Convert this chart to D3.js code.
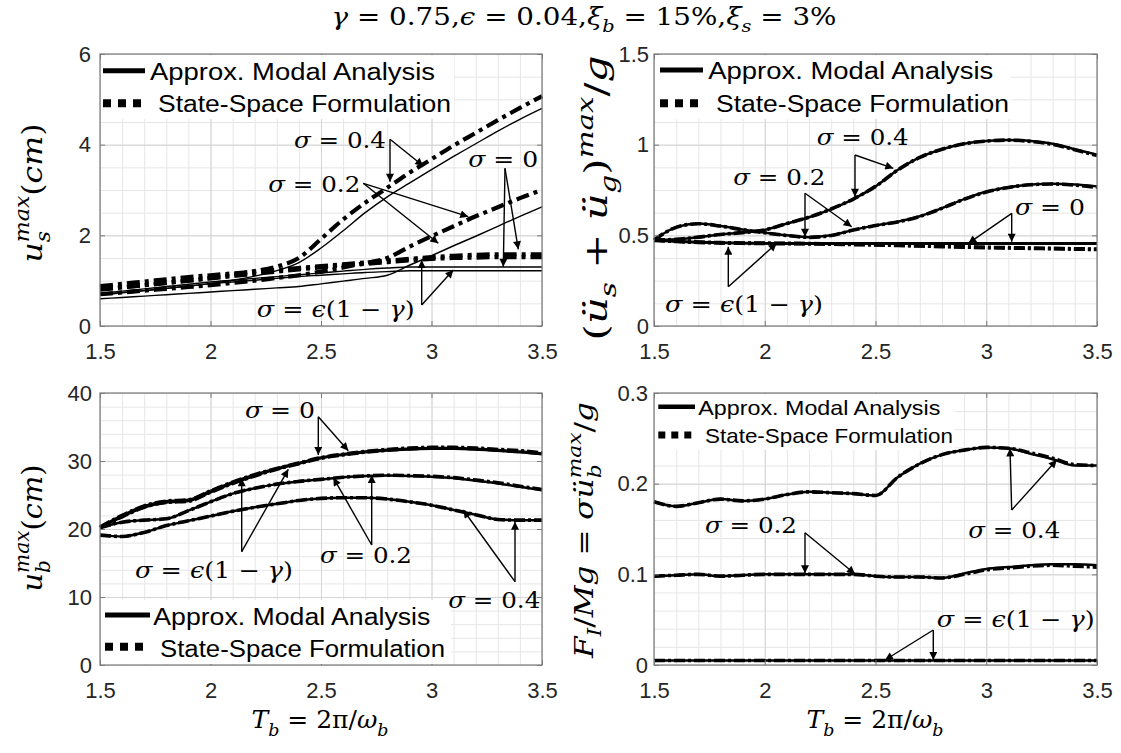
<!DOCTYPE html>
<html><head><meta charset="utf-8">
<script src="https://cdn.jsdelivr.net/npm/d3@7/dist/d3.min.js"></script>
<style>html,body{margin:0;background:#fff}</style>
</head><body>
<svg id="fig" width="1121" height="753" xmlns="http://www.w3.org/2000/svg"></svg>
<script>
// ---------------------------------------------------------------------------
// Data: peak responses vs. isolation period T_b (s)
// ---------------------------------------------------------------------------
const periods = [1.5,1.6,1.7,1.8,1.9,2.0,2.1,2.2,2.3,2.4,2.5,2.6,2.7,2.8,2.9,3.0,3.1,3.2,3.3,3.4,3.5];
const xTickValues = [1.5, 2, 2.5, 3, 3.5];

// Superstructure displacement u_s^max (cm)
const usModal_0   = [0.72,0.77,0.82,0.87,0.92,0.97,1.01,1.05,1.09,1.13,1.17,1.21,1.25,1.28,1.30,1.30,1.30,1.30,1.30,1.30,1.30];
const usModal_eps = [0.68,0.73,0.78,0.83,0.88,0.93,0.97,1.01,1.05,1.09,1.12,1.15,1.18,1.20,1.22,1.22,1.22,1.22,1.22,1.22,1.22];
const usModal_02  = [0.60,0.63,0.66,0.69,0.72,0.75,0.78,0.81,0.84,0.87,0.93,0.99,1.05,1.12,1.34,1.55,1.77,1.98,2.20,2.42,2.63];
const usModal_04  = [0.70,0.74,0.78,0.83,0.88,0.94,1.01,1.10,1.22,1.40,1.72,2.10,2.50,2.85,3.15,3.45,3.74,4.02,4.30,4.56,4.80];
const usSS_0      = [0.88,0.93,0.98,1.03,1.08,1.12,1.16,1.20,1.24,1.28,1.32,1.36,1.40,1.44,1.48,1.52,1.55,1.57,1.58,1.58,1.58];
const usSS_eps    = [0.80,0.85,0.90,0.95,1.00,1.05,1.10,1.15,1.20,1.25,1.29,1.33,1.37,1.41,1.45,1.48,1.50,1.51,1.52,1.52,1.52];
const usSS_02     = [0.70,0.74,0.78,0.82,0.86,0.90,0.95,1.00,1.06,1.12,1.20,1.29,1.39,1.50,1.75,1.98,2.20,2.42,2.62,2.82,3.00];
const usSS_04     = [0.82,0.86,0.90,0.95,1.00,1.06,1.13,1.21,1.31,1.50,1.92,2.35,2.72,3.05,3.38,3.68,3.98,4.26,4.54,4.81,5.07];

// Superstructure absolute acceleration (ü_s + ü_g)^max / g
const accModal_0   = [0.474,0.468,0.463,0.460,0.458,0.457,0.456,0.456,0.456,0.456,0.456,0.456,0.456,0.456,0.456,0.456,0.456,0.456,0.456,0.456,0.456];
const accModal_eps = [0.472,0.466,0.461,0.458,0.456,0.455,0.454,0.454,0.454,0.454,0.454,0.454,0.454,0.454,0.454,0.454,0.454,0.454,0.454,0.454,0.454];
const accModal_02  = [0.474,0.545,0.565,0.552,0.532,0.515,0.500,0.490,0.500,0.530,0.555,0.575,0.605,0.650,0.700,0.740,0.765,0.780,0.785,0.780,0.770];
const accModal_04  = [0.474,0.478,0.490,0.505,0.515,0.530,0.565,0.600,0.645,0.700,0.770,0.860,0.930,0.975,1.005,1.020,1.026,1.020,1.005,0.975,0.945];
const accSS_0      = [0.474,0.468,0.463,0.460,0.458,0.457,0.456,0.455,0.453,0.451,0.449,0.446,0.443,0.440,0.437,0.434,0.432,0.430,0.428,0.426,0.424];
const accSS_eps    = [0.472,0.466,0.461,0.458,0.456,0.455,0.454,0.453,0.451,0.449,0.447,0.444,0.441,0.438,0.435,0.432,0.430,0.428,0.426,0.424,0.422];
const accSS_02     = [0.474,0.544,0.564,0.551,0.531,0.514,0.499,0.489,0.499,0.529,0.554,0.574,0.604,0.649,0.699,0.739,0.764,0.779,0.783,0.777,0.765];
const accSS_04     = [0.474,0.478,0.490,0.505,0.515,0.530,0.565,0.600,0.645,0.700,0.770,0.860,0.930,0.975,1.005,1.020,1.025,1.018,1.002,0.972,0.940];

// Base displacement u_b^max (cm)
const ubModal_0   = [20.3,22.0,23.4,24.1,24.3,25.6,26.9,28.0,28.9,29.7,30.5,31.0,31.4,31.65,31.8,31.9,31.9,31.8,31.6,31.4,31.1];
const ubModal_eps = [20.2,21.8,23.2,23.9,24.1,25.4,26.7,27.8,28.8,29.6,30.4,30.9,31.3,31.55,31.7,31.8,31.8,31.7,31.5,31.3,31.0];
const ubModal_02  = [20.2,21.0,21.3,21.5,22.7,24.0,25.2,26.0,26.6,27.0,27.3,27.6,27.8,27.85,27.8,27.7,27.5,27.1,26.7,26.2,25.7];
const ubModal_04  = [19.1,18.9,19.5,20.5,21.2,21.9,22.6,23.2,23.7,24.2,24.5,24.6,24.6,24.4,24.0,23.5,22.8,22.1,21.4,21.3,21.3];
const ubSS_0      = [20.3,22.0,23.4,24.1,24.3,25.6,26.9,28.0,28.9,29.7,30.5,31.0,31.4,31.7,31.9,32.0,32.0,31.9,31.7,31.5,31.2];
const ubSS_eps    = [20.2,21.8,23.2,23.9,24.1,25.4,26.7,27.8,28.8,29.6,30.4,30.9,31.3,31.6,31.8,31.9,31.9,31.8,31.6,31.4,31.1];
const ubSS_02     = [20.2,21.0,21.3,21.5,22.7,24.0,25.2,26.0,26.6,27.0,27.3,27.6,27.8,27.9,27.85,27.75,27.55,27.2,26.8,26.3,25.8];
const ubSS_04     = [19.1,18.9,19.5,20.5,21.2,21.9,22.6,23.2,23.7,24.2,24.5,24.6,24.6,24.4,24.0,23.5,22.8,22.1,21.4,21.3,21.3];

// Inertia force at the base F_I / Mg
const fiModal_eps = [0.005,0.005,0.005,0.005,0.005,0.005,0.005,0.005,0.005,0.005,0.005,0.005,0.005,0.005,0.005,0.005,0.005,0.005,0.005,0.005,0.005];
const fiModal_02  = [0.098,0.099,0.100,0.098,0.099,0.100,0.100,0.100,0.100,0.100,0.098,0.097,0.097,0.096,0.101,0.106,0.108,0.110,0.111,0.111,0.110];
const fiModal_04  = [0.180,0.175,0.179,0.183,0.181,0.183,0.188,0.191,0.190,0.189,0.187,0.207,0.222,0.232,0.237,0.240,0.239,0.233,0.227,0.220,0.220];
const fiSS_eps    = [0.005,0.005,0.005,0.005,0.005,0.005,0.005,0.005,0.005,0.005,0.005,0.005,0.005,0.005,0.005,0.005,0.005,0.005,0.005,0.005,0.005];
const fiSS_02     = [0.098,0.099,0.100,0.098,0.099,0.100,0.100,0.100,0.100,0.100,0.098,0.097,0.097,0.096,0.100,0.105,0.107,0.109,0.110,0.109,0.108];
const fiSS_04     = [0.180,0.175,0.179,0.183,0.181,0.183,0.188,0.191,0.190,0.189,0.187,0.207,0.222,0.232,0.237,0.240,0.239,0.234,0.228,0.221,0.220];

// Axis ticks
const usTicks  = [0, 2, 4, 6];
const accTicks = [0, 0.5, 1, 1.5];
const ubTicks  = [0, 10, 20, 30, 40];
const fiTicks  = [0, 0.1, 0.2, 0.3];

const legendLabels = ["Approx. Modal Analysis", "State-Space Formulation"];

// ---------------------------------------------------------------------------
// Layout and style
// ---------------------------------------------------------------------------
const MATH = "'DejaVu Serif', serif";
const SANS = "'Liberation Sans', Arial, sans-serif";
const svg = d3.select("#fig");

svg.append("defs").append("marker")
  .attr("id", "ah").attr("viewBox", "0 0 10 10").attr("refX", 10).attr("refY", 5)
  .attr("markerUnits", "userSpaceOnUse").attr("markerWidth", 11).attr("markerHeight", 8)
  .attr("orient", "auto")
  .append("path").attr("d", "M0,0 L10,5 L0,10 Z").attr("fill", "#000");

// Math text helper: parts are [string, flags]; flags: i italic, _ subscript,
// ^ superscript, < stack over the preceding script
function mathText(parent, parts, fs, opts = {}) {
  const t = parent.append("text")
    .attr("font-family", MATH).attr("font-size", fs).attr("fill", "#000")
    .attr("text-anchor", opts.anchor || "start");
  let level = 0, prev = null;
  parts.forEach(([s, f = ""]) => {
    const target = f.includes("_") ? 0.3 : f.includes("^") ? -0.45 : 0;
    const ts = t.append("tspan").text(s)
      .attr("font-size", target ? fs * 0.7 : fs)
      .attr("dy", ((target - level) * fs).toFixed(2));
    if (f.includes("i")) ts.attr("font-style", "italic");
    if (f.includes("<") && prev) ts.attr("dx", -prev.node().getComputedTextLength());
    level = target; prev = ts;
  });
  if (opts.length) t.attr("textLength", opts.length).attr("lengthAdjust", opts.adjust || "spacingAndGlyphs");
  return t;
}

const sigmaText = {
  "0":   [["σ", "i"], [" = 0"]],
  "eps": [["σ", "i"], [" = "], ["ϵ", "i"], ["(1 − "], ["γ", "i"], [")"]],
  "0.2": [["σ", "i"], [" = 0.2"]],
  "0.4": [["σ", "i"], [" = 0.4"]]
};
const sigmaWidth = { "0": 70, "eps": 158, "0.2": 92, "0.4": 92 };

const panels = [
  {
    box: { x: 100, y: 54, w: 442, h: 272 }, yDomain: [0, 6], yTicks: usTicks, yMinorStep: 0.5, yPad: 9,
    modal: [usModal_0, usModal_eps, usModal_02, usModal_04],
    ss: [usSS_0, usSS_eps, usSS_02, usSS_04],
    modalWidth: 1.4, ssWidth: 4.2, ssDash: "13,5,4,5",
    legend: { y: 0, w: 353, h: 66, sw: [3, 45], l1: 16.7, t1: [50, 26, 285], l2: 49.3, t2: [58, 57.7, 293], fs: 23, lw: 5, sq: 8 },
    ylabel: { parts: [["u", "i"], ["s", "i_"], ["max", "i^<"], ["("], ["cm", "i"], [")"]], x: 42, y: 193, fs: 28, len: 139 },
    notes: [
      { k: "0.4", t: [194, 94.3], o: [290, 85.3], tips: [[290, 127.7], [323.3, 112]] },
      { k: "0.2", t: [168.3, 137.7], o: [263.3, 129.3], tips: [[368.3, 162.7], [338.3, 189.3]] },
      { k: "0", t: [368.3, 112.7], o: [405, 114.3], tips: [[403.3, 212.7], [418.3, 195.3]] },
      { k: "eps", t: [156.7, 262.7], o: [321.7, 251], tips: [[321.7, 206], [353.3, 216]] }
    ]
  },
  {
    box: { x: 654, y: 54, w: 443, h: 272 }, yDomain: [0, 1.5], yTicks: accTicks, yMinorStep: 0.125, yPad: 5,
    modal: [accModal_0, accModal_eps, accModal_02, accModal_04],
    ss: [accSS_0, accSS_eps, accSS_02, accSS_04],
    modalWidth: 2.5, ssWidth: 3.6, ssDash: "11,3,3,3",
    legend: { y: 0, w: 356, h: 66, sw: [6, 49], l1: 16, t1: [54.3, 25.3, 285], l2: 49.3, t2: [62, 57.7, 293], fs: 23, lw: 5, sq: 8 },
    ylabel: { parts: [["("], ["ü", "i"], ["s", "i_"], [" + "], ["ü", "i"], ["g", "i_"], [")"], ["max", "i^"], ["/"], ["g", "i"]], x: 607, y: 198, fs: 31, len: 285 },
    notes: [
      { k: "0.4", t: [162.7, 91], o: [201, 101], tips: [[201, 142.7], [239.3, 114.3]] },
      { k: "0.2", t: [79.3, 131], o: [151, 139.3], tips: [[151, 182.7], [197.7, 172.7]] },
      { k: "0", t: [361, 161], o: [357.7, 159.3], tips: [[314.3, 189.3], [357.7, 187.7]] },
      { k: "eps", t: [11, 257.7], o: [74.3, 232.7], tips: [[74.3, 192.7], [122.7, 189.3]] }
    ]
  },
  {
    box: { x: 100, y: 393, w: 442, h: 272 }, yDomain: [0, 40], yTicks: ubTicks, yMinorStep: 2, yPad: 8,
    modal: [ubModal_0, ubModal_eps, ubModal_02, ubModal_04],
    ss: [ubSS_0, ubSS_eps, ubSS_02, ubSS_04],
    modalWidth: 2.5, ssWidth: 3.6, ssDash: "11,3,3,3",
    legend: { y: 206, w: 350, h: 66, sw: [5, 50], l1: 222, t1: [53.3, 232, 277], l2: 253.7, t2: [60, 263.7, 285], fs: 23, lw: 5, sq: 8 },
    ylabel: { parts: [["u", "i"], ["b", "i_"], ["max", "i^<"], ["("], ["cm", "i"], [")"]], x: 42, y: 528, fs: 28, len: 127 },
    notes: [
      { k: "0", t: [145, 25.3], o: [218.3, 23.7], tips: [[218.3, 62], [248.3, 57.7]] },
      { k: "eps", t: [35, 185.3], o: [141.7, 158.7], tips: [[141.7, 85.3], [188.3, 76.3]] },
      { k: "0.2", t: [220, 170.3], o: [271.7, 152], tips: [[233.3, 84.7], [271.7, 82]] },
      { k: "0.4", t: [348.3, 215.3], o: [415, 188.7], tips: [[363.3, 117], [415, 128.7]] }
    ]
  },
  {
    box: { x: 654, y: 393, w: 443, h: 272 }, yDomain: [0, 0.3], yTicks: fiTicks, yMinorStep: 0.02, yPad: 6,
    modal: [fiModal_eps, fiModal_02, fiModal_04],
    ss: [fiSS_eps, fiSS_02, fiSS_04],
    modalWidth: 2.5, ssWidth: 3.6, ssDash: "11,3,3,3",
    legend: { y: 0, w: 300, h: 58, sw: [4.3, 41], l1: 13.7, t1: [44.3, 22, 242], l2: 42, t2: [51, 49.7, 248], fs: 21, lw: 4.5, sq: 7 },
    ylabel: { parts: [["F", "i"], ["I", "i_"], ["/"], ["Mg", "i"], [" = "], ["σ", "i"], ["ü", "i"], ["b", "i_"], ["max", "i^<"], ["/"], ["g", "i"]], x: 593, y: 530, fs: 26, len: 256 },
    notes: [
      { k: "0.2", t: [51, 140.3], o: [151, 139.7], tips: [[151, 180.3], [201, 181]] },
      { k: "0.4", t: [314.3, 145.3], o: [357.7, 117], tips: [[356, 55.3], [402.7, 67]] },
      { k: "eps", t: [282.7, 233.7], o: [279.3, 237], tips: [[231, 267], [279.3, 267]] }
    ]
  }
];

const xMinor = d3.range(15, 36).map(d => d / 10);
const fmt = d => String(+d.toFixed(3));

panels.forEach(p => {
  const { x: bx, y: by, w, h } = p.box;
  const g = svg.append("g").attr("transform", `translate(${bx},${by})`);
  const x = d3.scaleLinear().domain([1.5, 3.5]).range([0, w]);
  const y = d3.scaleLinear().domain(p.yDomain).range([h, 0]);
  const nMinor = Math.round((p.yDomain[1] - p.yDomain[0]) / p.yMinorStep);
  const yMinor = d3.range(nMinor + 1).map(i => p.yDomain[0] + i * p.yMinorStep);

  // grids
  const grid = (axis, color) => {
    const gg = g.append("g").call(axis);
    gg.select(".domain").remove();
    gg.selectAll("line").attr("stroke", color).attr("stroke-width", 1);
    gg.selectAll("text").remove();
  };
  grid(d3.axisBottom(x).tickValues(xMinor).tickSize(h), "#e6e6e6");
  grid(d3.axisLeft(y).tickValues(yMinor).tickSize(-w), "#e6e6e6");
  grid(d3.axisBottom(x).tickValues(xTickValues).tickSize(h), "#d4d4d4");
  grid(d3.axisLeft(y).tickValues(p.yTicks).tickSize(-w), "#d4d4d4");

  // series: modal (solid) under state-space (dash-dot)
  const line = data => d3.line().x((d, i) => x(periods[i])).y(d => y(d)).curve(d3.curveMonotoneX)(data);
  p.modal.forEach(s => g.append("path").attr("d", line(s)).attr("fill", "none")
    .attr("stroke", "#000").attr("stroke-width", p.modalWidth).attr("stroke-linejoin", "round"));
  p.ss.forEach(s => g.append("path").attr("d", line(s)).attr("fill", "none")
    .attr("stroke", "#000").attr("stroke-width", p.ssWidth).attr("stroke-dasharray", p.ssDash));

  // box and inner ticks
  const tickAxis = (axis, tr) => {
    const ga = g.append("g").attr("transform", tr).call(axis);
    ga.select(".domain").remove();
    ga.selectAll("text").remove();
    ga.selectAll("line").attr("stroke", "#7a7a7a");
  };
  tickAxis(d3.axisBottom(x).tickValues(xTickValues).tickSize(-5), `translate(0,${h})`);
  tickAxis(d3.axisTop(x).tickValues(xTickValues).tickSize(-5), "translate(0,0)");
  tickAxis(d3.axisLeft(y).tickValues(p.yTicks).tickSize(-5), "translate(0,0)");
  tickAxis(d3.axisRight(y).tickValues(p.yTicks).tickSize(-5), `translate(${w},0)`);
  g.append("rect").attr("width", w).attr("height", h).attr("fill", "none")
    .attr("stroke", "#7a7a7a").attr("stroke-width", 1.2);

  // tick labels
  const lab = (axis, tr) => {
    const ga = g.append("g").attr("transform", tr).call(axis);
    ga.select(".domain").remove();
    ga.selectAll("line").remove();
    ga.selectAll("text").attr("font-family", SANS).attr("font-size", 22).attr("fill", "#262626");
  };
  lab(d3.axisBottom(x).tickValues(xTickValues).tickFormat(fmt).tickSize(0).tickPadding(17.5), `translate(0,${h})`);
  lab(d3.axisLeft(y).tickValues(p.yTicks).tickFormat(fmt).tickSize(0).tickPadding(p.yPad), "translate(0,0)");

  // legend
  const L = p.legend;
  g.append("rect").attr("x", 1).attr("y", L.y + 1).attr("width", L.w).attr("height", L.h - 2).attr("fill", "#fff");
  g.append("line").attr("x1", L.sw[0]).attr("x2", L.sw[1]).attr("y1", L.l1).attr("y2", L.l1)
    .attr("stroke", "#000").attr("stroke-width", L.lw);
  g.append("line").attr("x1", L.sw[0]).attr("x2", L.sw[1]).attr("y1", L.l2).attr("y2", L.l2)
    .attr("stroke", "#000").attr("stroke-width", L.sq).attr("stroke-dasharray", `${L.sq},${L.sq - 1}`);
  [L.t1, L.t2].forEach((t, i) => g.append("text").attr("x", t[0]).attr("y", t[1])
    .attr("font-family", SANS).attr("font-size", L.fs).attr("fill", "#000")
    .attr("textLength", t[2]).attr("lengthAdjust", "spacingAndGlyphs").text(legendLabels[i]));

  // annotations
  p.notes.forEach(n => {
    n.tips.forEach(tp => g.append("line").attr("x1", n.o[0]).attr("y1", n.o[1])
      .attr("x2", tp[0]).attr("y2", tp[1]).attr("stroke", "#000").attr("stroke-width", 1.4)
      .attr("marker-end", "url(#ah)"));
    mathText(g, sigmaText[n.k], 22, { length: sigmaWidth[n.k] })
      .attr("x", n.t[0]).attr("y", n.t[1]);
  });

  // y label
  const yl = p.ylabel;
  mathText(svg.append("g").attr("transform", `translate(${yl.x},${yl.y}) rotate(-90)`),
    yl.parts, yl.fs, { anchor: "middle", length: yl.len });
});

// x labels
[320, 875].forEach(cx => {
  mathText(svg.append("g").attr("transform", `translate(${cx},728)`),
    [["T", "i"], ["b", "i_"], [" = 2π/"], ["ω", "i"], ["b", "i_"]], 25, { anchor: "middle" });
});

// title
mathText(svg.append("g").attr("transform", "translate(584,25)"),
  [["γ", "i"], [" = 0.75,"], ["ϵ", "i"], [" = 0.04,"], ["ξ", "i"], ["b", "i_"], [" = 15%,"], ["ξ", "i"], ["s", "i_"], [" = 3%"]],
  24, { anchor: "middle", length: 505 });
</script>
</body></html>
